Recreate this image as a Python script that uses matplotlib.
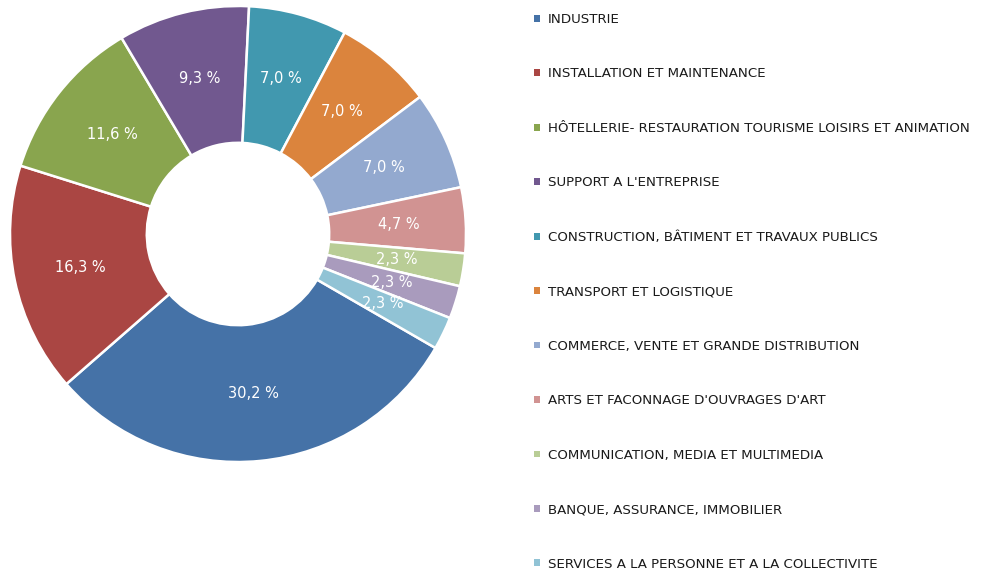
import matplotlib
matplotlib.use("Agg")
import matplotlib.pyplot as plt
from matplotlib.patches import Patch

# data (counts out of 43 offers, shown as percentages)
categories = [
    "INDUSTRIE",
    "INSTALLATION ET MAINTENANCE",
    "HÔTELLERIE- RESTAURATION TOURISME LOISIRS ET ANIMATION",
    "SUPPORT A L'ENTREPRISE",
    "CONSTRUCTION, BÂTIMENT ET TRAVAUX PUBLICS",
    "TRANSPORT ET LOGISTIQUE",
    "COMMERCE, VENTE ET GRANDE DISTRIBUTION",
    "ARTS ET FACONNAGE D'OUVRAGES D'ART",
    "COMMUNICATION, MEDIA ET MULTIMEDIA",
    "BANQUE, ASSURANCE, IMMOBILIER",
    "SERVICES A LA PERSONNE ET A LA COLLECTIVITE",
]
counts = [13, 7, 5, 4, 3, 3, 3, 2, 1, 1, 1]
colors = ["#4572A7", "#AA4643", "#89A54E", "#71588F", "#4198AF", "#DB843D",
          "#93A9CF", "#D19392", "#B9CD96", "#A99BBD", "#91C3D5"]

plt.rcParams['font.family'] = ['DejaVu Sans']

W, H = 984, 574
fig = plt.figure(figsize=(W / 100, H / 100), dpi=100)

cx, cy, r = 238, H - 234, 228  # pixel centre and radius of the donut
ax = fig.add_axes([(cx - r) / W, (cy - r) / H, 2 * r / W, 2 * r / H])

def fmt(p):
    return f"{p:.1f}".replace(".", ",") + " %"

wedges, texts, autotexts = ax.pie(
    counts, colors=colors, startangle=-30, counterclock=False,
    autopct=fmt, pctdistance=0.705, radius=1.0,
    wedgeprops=dict(width=0.6, edgecolor="white", linewidth=1.8),
    textprops=dict(color="white", fontsize=10.5))
ax.set_xlim(-1, 1)
ax.set_ylim(-1, 1)
ax.set_aspect("equal")
ax.axis("off")

handles = [Patch(facecolor=c, edgecolor="none") for c in colors]
leg = fig.legend(handles, categories, loc="upper left",
                 bbox_to_anchor=(534 / W, 1 - 13 / H), frameon=False,
                 fontsize=9.6, handlelength=0.42, handleheight=0.42,
                 handletextpad=0.6, labelspacing=3.11, borderaxespad=0,
                 borderpad=0)
for t in leg.get_texts():
    t.set_color("#1a1a1a")

fig.savefig("out.png", dpi=100)
